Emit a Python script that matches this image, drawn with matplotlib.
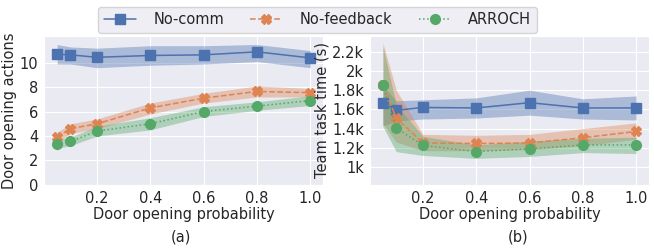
import matplotlib
matplotlib.use('Agg')
import matplotlib.pyplot as plt
import seaborn as sns
from matplotlib.ticker import FuncFormatter

probs = [0.05, 0.1, 0.2, 0.4, 0.6, 0.8, 1.0]
labels = ['No-comm', 'No-feedback', 'ARROCH']

# (a) door opening actions
actions_mean = {
    'No-comm': [10.7, 10.65, 10.45, 10.6, 10.65, 10.9, 10.4],
    'No-feedback': [3.9, 4.6, 5.0, 6.3, 7.1, 7.65, 7.55],
    'ARROCH': [3.35, 3.55, 4.4, 5.0, 6.0, 6.45, 6.9],
}
actions_low = {
    'No-comm': [9.9, 9.9, 9.6, 9.8, 9.9, 10.1, 9.6],
    'No-feedback': [3.5, 4.2, 4.6, 5.8, 6.7, 7.2, 7.2],
    'ARROCH': [3.0, 3.2, 4.0, 4.5, 5.6, 6.1, 6.5],
}
actions_high = {
    'No-comm': [11.5, 11.3, 11.2, 11.4, 11.4, 11.5, 11.0],
    'No-feedback': [4.3, 5.0, 5.4, 6.7, 7.5, 8.1, 7.9],
    'ARROCH': [3.7, 3.9, 4.8, 5.5, 6.4, 6.8, 7.3],
}

# (b) team task time
time_mean = {
    'No-comm': [1670, 1590, 1620, 1615, 1670, 1615, 1615],
    'No-feedback': [1850, 1510, 1250, 1245, 1250, 1305, 1370],
    'ARROCH': [1855, 1405, 1225, 1160, 1190, 1230, 1230],
}
time_low = {
    'No-comm': [1430, 1480, 1500, 1510, 1540, 1500, 1490],
    'No-feedback': [1450, 1260, 1170, 1170, 1180, 1220, 1290],
    'ARROCH': [1420, 1160, 1120, 1090, 1110, 1150, 1140],
}
time_high = {
    'No-comm': [1850, 1690, 1700, 1720, 1800, 1710, 1740],
    'No-feedback': [2290, 1800, 1340, 1330, 1340, 1400, 1460],
    'ARROCH': [2250, 1650, 1320, 1230, 1270, 1300, 1310],
}

sns.set_style('darkgrid')
plt.rcParams['font.family'] = ['DejaVu Sans']
plt.rcParams['font.size'] = 10.5

colors = ['#4C72B0', '#DD8452', '#55A868']
markers = ['s', 'X', 'o']
linestyles = ['-', '--', ':']

fig, (ax1, ax2) = plt.subplots(1, 2, figsize=(6.54, 2.48), dpi=100)
fig.subplots_adjust(left=0.068, right=0.992, top=0.855, bottom=0.255, wspace=0.17)


def draw(ax, mean, low, high):
    handles = []
    for i, name in enumerate(labels):
        h, = ax.plot(probs, mean[name], color=colors[i], marker=markers[i],
                     linestyle=linestyles[i], linewidth=1.1, markersize=7,
                     markeredgecolor=colors[i], label=name)
        ax.fill_between(probs, low[name], high[name], color=colors[i],
                        alpha=0.4, linewidth=0)
        handles.append(h)
    ax.set_xlabel('Door opening probability', labelpad=1)
    ax.set_xticks([0.2, 0.4, 0.6, 0.8, 1.0])
    ax.set_xticklabels(['0.2', '0.4', '0.6', '0.8', '1.0'])
    ax.tick_params(axis='both', pad=1)
    return handles


handles = draw(ax1, actions_mean, actions_low, actions_high)
ax1.set_ylim(0, 12.2)
ax1.set_yticks([0, 2, 4, 6, 8, 10])
ax1.set_ylabel('Door opening actions', labelpad=2)

draw(ax2, time_mean, time_low, time_high)
ax2.set_ylim(815, 2365)
ax2.set_yticks([1000, 1200, 1400, 1600, 1800, 2000, 2200])
ax2.yaxis.set_major_formatter(FuncFormatter(lambda v, p: '{:g}k'.format(v / 1000)))
ax2.set_ylabel('Team task time (s)', labelpad=2)

fig.legend(handles, labels, loc='upper center', ncol=3,
           bbox_to_anchor=(0.4855, 0.985), columnspacing=1.8, handlelength=2.2,
           handletextpad=1.2, borderaxespad=0.2, frameon=True)

fig.text(0.277, 0.044, '(a)', ha='center', va='center', fontsize=10.5)
fig.text(0.792, 0.044, '(b)', ha='center', va='center', fontsize=10.5)

plt.savefig('out.png', dpi=100)
